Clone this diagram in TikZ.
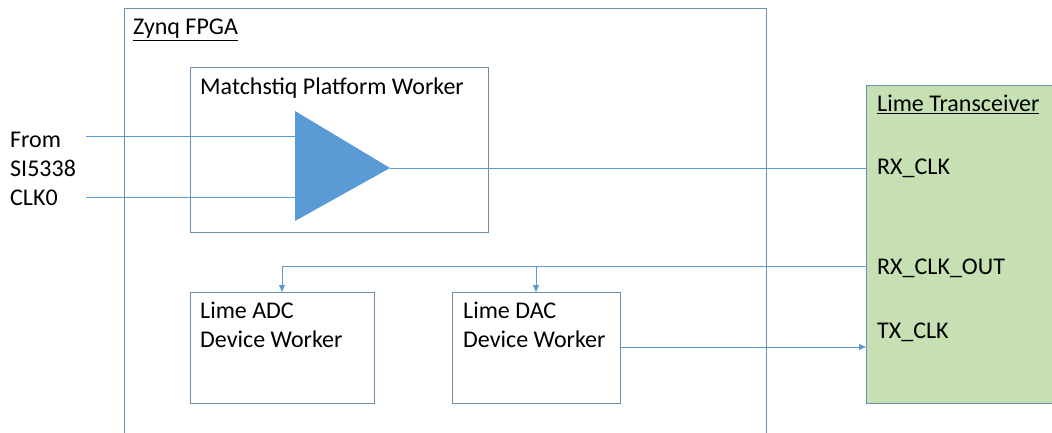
\documentclass[tikz,border=0pt]{standalone}
\usepackage{fontspec}
\setmainfont{Carlito}
\usetikzlibrary{arrows.meta}
\definecolor{wire}{HTML}{5B9BD5}
\definecolor{frame}{HTML}{6F8FAF}
\definecolor{tri}{HTML}{5B9BD5}
\definecolor{lime}{HTML}{C6E0B4}
\tikzset{
  x=1pt, y=-1pt,
  box/.style={draw=frame, line width=0.9pt, inner sep=0pt, anchor=north west},
  lbl/.style={anchor=base west, inner sep=0pt, font=\fontsize{24}{28}\selectfont},
  wireline/.style={draw=wire, line width=0.9pt},
  arr/.style={wireline, -{Triangle[length=7pt,width=6pt]}}
}
\begin{document}
\begin{tikzpicture}
\useasboundingbox (0,0) rectangle (1052,433);
% FPGA frame (open at bottom)
\draw[draw=frame, line width=0.9pt] (124,440) -- (124,8) -- (766,8) -- (766,440);
\node[lbl] (zynq) at (133,35) {\underline{Zynq FPGA}};
% Matchstiq box
\node[box, minimum width=298pt, minimum height=165pt] (match) at (190,67) {};
\node[lbl] (matchl) at (200,95) {Matchstiq Platform Worker};
% triangle
\coordinate (ta) at (295,111);
\coordinate (tb) at (295,221);
\coordinate (tip) at (390,168);
\fill[tri] (ta) -- (tip) -- (tb) -- cycle;
\coordinate (in1) at (295,136);
\coordinate (in2) at (295,197);
\coordinate (src1) at (86,136);
\coordinate (src2) at (86,197);
\draw[wireline] (src1) -- (in1);
\draw[wireline] (src2) -- (in2);
\node[lbl] (from) at (10,147) {From};
\node[lbl] (si) at (10,176) {SI5338};
\node[lbl] (clk) at (10,205) {CLK0};
% ADC / DAC boxes
\node[box, minimum width=184pt, minimum height=111pt] (adc) at (190,292) {};
\node[lbl] (adcl1) at (200,318) {Lime ADC};
\node[lbl] (adcl2) at (200,347) {Device Worker};
\node[box, minimum width=168pt, minimum height=111pt] (dac) at (452,292) {};
\node[lbl] (dacl1) at (463,318) {Lime DAC};
\node[lbl] (dacl2) at (463,347) {Device Worker};
% Lime transceiver
\node[box, fill=lime, minimum width=200pt, minimum height=318pt] (lime) at (866,85) {};
\node[lbl] (limel) at (877,112) {\underline{Lime Transceiver}};
\node[lbl] (rxclk) at (877,174) {RX\_CLK};
\node[lbl] (rxout) at (877,274) {RX\_CLK\_OUT};
\node[lbl] (txclk) at (877,338) {TX\_CLK};
% connectors
\coordinate (rxin) at (lime.west |- tip);
\draw[wireline] (tip) -- (rxin);
\coordinate (rxo) at (866,266);
\coordinate (adcj) at (282,266);
\coordinate (dacj) at (536,266);
\draw[wireline] (rxo) -- (adcj);
\draw[arr] (adcj) -- (adcj |- adc.north);
\draw[arr] (dacj) -- (dacj |- dac.north);
\coordinate (txs) at (dac.east |- 0,347);
\draw[arr] (txs) -- (lime.west |- txs);
\end{tikzpicture}
\end{document}
